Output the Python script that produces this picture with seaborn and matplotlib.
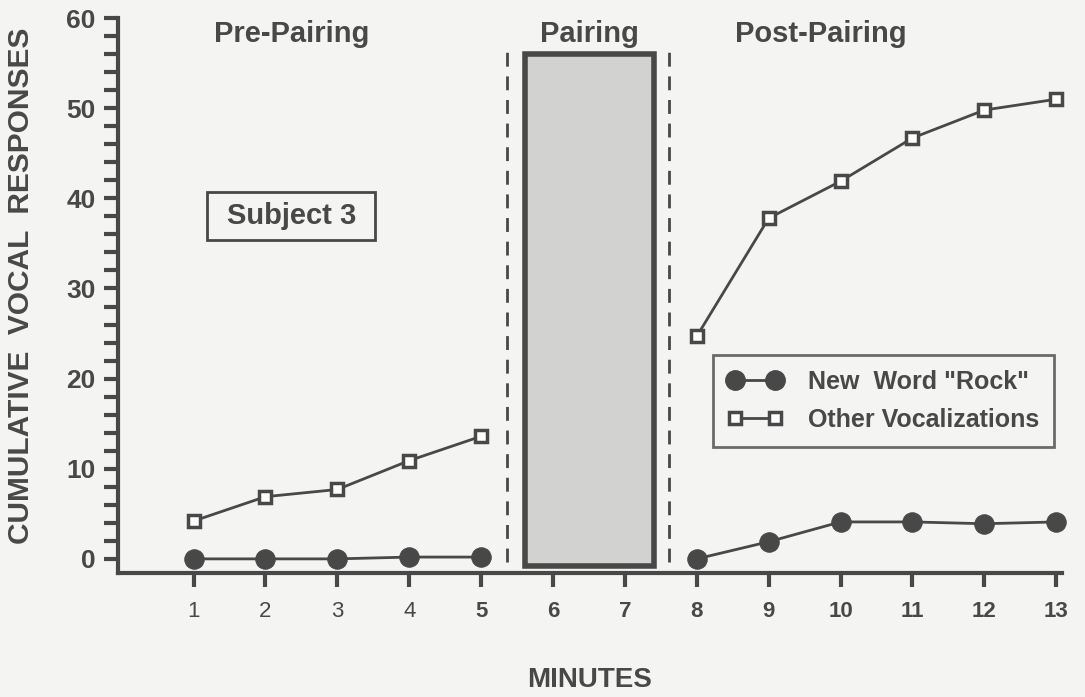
import pandas as pd
import matplotlib
matplotlib.use("Agg")
import matplotlib.pyplot as plt
from matplotlib.patches import Rectangle
from matplotlib.lines import Line2D
from matplotlib.ticker import MultipleLocator
import seaborn as sns

minutes = [1, 2, 3, 4, 5, 8, 9, 10, 11, 12, 13]
phase = ["pre"] * 5 + ["post"] * 6
rock = [0, 0, 0, 0.2, 0.2, 0, 1.9, 4.1, 4.1, 3.9, 4.1]
other = [4.2, 6.9, 7.7, 10.9, 13.6, 24.7, 37.8, 41.9, 46.7, 49.8, 51.0]
tick_labels = ["1", "2", "3", "4", "5", "6", "7", "8", "9", "10", "11", "12", "13"]

df = pd.DataFrame({"Minute": minutes, "Phase": phase, "Rock": rock, "Other": other})

sns.set_style("white")
plt.rcParams["font.family"] = ["Liberation Sans", "DejaVu Sans"]
ink = "#484848"
bg = "#f4f4f2"

fig = plt.figure(figsize=(10.85, 6.97), dpi=100, facecolor=bg)
ax = fig.add_axes([0.1088, 0.178, 0.870, 0.796], facecolor=bg)

for ph in ["pre", "post"]:
    d = df[df["Phase"] == ph]
    sns.lineplot(data=d, x="Minute", y="Other", ax=ax, color=ink, lw=2,
                 marker="s", markersize=9, markerfacecolor="white",
                 markeredgecolor=ink, markeredgewidth=2.5, zorder=3, clip_on=False)
    sns.lineplot(data=d, x="Minute", y="Rock", ax=ax, color=ink, lw=2,
                 marker="o", markersize=14, markerfacecolor=ink,
                 markeredgecolor=ink, zorder=4, clip_on=False)

# pairing block
ax.add_patch(Rectangle((5.61, -0.8), 1.79, 56.8, facecolor="#d2d2d0",
                       edgecolor=ink, lw=4, zorder=2))
for xv in [5.36, 7.61]:
    ax.plot([xv, xv], [-0.4, 56.6], color=ink, lw=2, ls=(0, (5, 3.5)), zorder=2)

ax.set_xlim(-0.05, 13.08)
ax.set_ylim(-1.56, 60)
ax.set_xticks(range(1, 14))
ax.set_xticklabels(tick_labels)
ax.yaxis.set_major_locator(MultipleLocator(10))
ax.yaxis.set_minor_locator(MultipleLocator(2))

for s in ["top", "right"]:
    ax.spines[s].set_visible(False)
for s in ["left", "bottom"]:
    ax.spines[s].set_color(ink)
    ax.spines[s].set_linewidth(3)

ax.tick_params(axis="both", which="both", bottom=True, left=True,
               direction="out", color=ink, width=3, length=10, labelcolor=ink)
ax.tick_params(axis="x", which="major", labelsize=16, pad=10)
ax.tick_params(axis="y", which="major", labelsize=19, pad=6)
for lab in ax.get_yticklabels()[1:]:
    lab.set_fontweight("bold")
for lab in ax.get_xticklabels()[4:]:
    lab.set_fontweight("bold")

ax.set_xlabel("MINUTES", fontsize=20, fontweight="bold", color=ink)
ax.xaxis.set_label_coords(0.5, -0.170)
ax.set_ylabel("CUMULATIVE  VOCAL  RESPONSES", fontsize=21.5, fontweight="bold",
              color=ink)
ax.yaxis.set_label_coords(-0.088, 0.518)

for xt, txt in [(2.36, "Pre-Pairing"), (6.51, "Pairing"), (9.72, "Post-Pairing")]:
    ax.text(xt, 58.2, txt, ha="center", va="center", fontsize=21,
            fontweight="bold", color=ink)

ax.add_patch(Rectangle((1.19, 35.4), 2.34, 5.3, facecolor="none",
                       edgecolor=ink, lw=2, zorder=2))
ax.text(2.36, 38.05, "Subject 3", ha="center", va="center", fontsize=21,
        fontweight="bold", color=ink)

# legend
handles = [
    Line2D([], [], color=ink, lw=2, marker="o", markersize=14, markerfacecolor=ink),
    Line2D([], [], color=ink, lw=2, marker="s", markersize=9, markerfacecolor="white",
           markeredgecolor=ink, markeredgewidth=2.5),
]
leg = ax.legend(handles, ['New  Word "Rock"', "Other Vocalizations"],
                loc="upper left", bbox_to_anchor=(0.630, 0.393), frameon=True,
                fancybox=False, edgecolor=ink, facecolor="none", numpoints=2,
                handlelength=2.2, handletextpad=1.0, fontsize=18,
                borderpad=0.6, labelspacing=0.55, borderaxespad=0)
leg.get_frame().set_linewidth(2)
for t in leg.get_texts():
    t.set_fontweight("bold")
    t.set_color(ink)

fig.savefig("out.png", dpi=100, facecolor=bg)
